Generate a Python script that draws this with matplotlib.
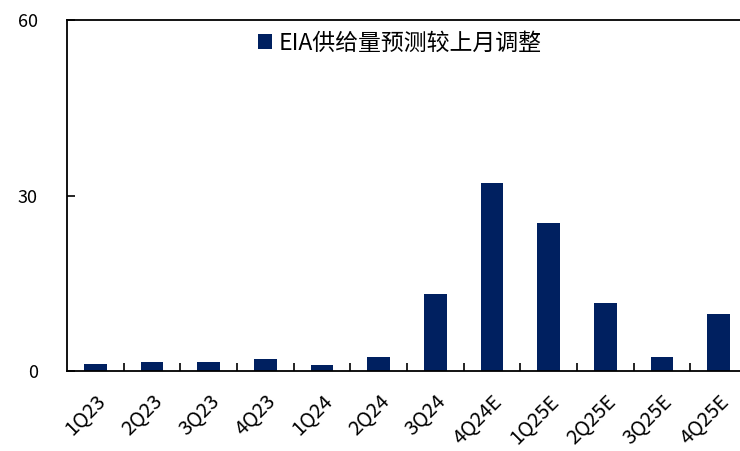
import matplotlib
matplotlib.use("Agg")
import matplotlib.pyplot as plt
import numpy as np

plt.rcParams['font.family'] = ['Noto Sans CJK SC', 'DejaVu Sans']

quarters = ["1Q23", "2Q23", "3Q23", "4Q23", "1Q24", "2Q24", "3Q24",
            "4Q24E", "1Q25E", "2Q25E", "3Q25E", "4Q25E"]
adjustment = [1.25, 1.5, 1.5, 2.0, 1.1, 2.4, 13.2, 32.2, 25.3, 11.7, 2.4, 9.7]
series_name = "EIA供给量预测较上月调整"
y_ticks = [0, 30, 60]

fig = plt.figure(figsize=(7.40, 4.51), dpi=100)
ax = fig.add_axes([0.0905, 0.177, 0.919, 0.779])

x = np.arange(len(quarters))
ax.bar(x, adjustment, width=0.4, color="#002060", label=series_name)

ax.set_xlim(-0.5, len(quarters) - 0.5)
ax.set_ylim(0, 60)
ax.set_yticks(y_ticks)
ax.tick_params(axis="y", direction="in", length=6, width=1.2,
               labelsize=13, pad=21)

ax.set_xticks(x)
ax.set_xticklabels(quarters, rotation=45, ha="right",
                   rotation_mode="anchor", fontsize=14.5)
ax.tick_params(axis="x", which="major", length=0, pad=14)
ax.set_xticks(x[:-1] + 0.5, minor=True)
ax.tick_params(axis="x", which="minor", direction="in", length=6, width=1.2)

for side in ["left", "bottom", "top"]:
    ax.spines[side].set_linewidth(1.3)
ax.spines["right"].set_visible(False)

ax.legend(loc="upper center", bbox_to_anchor=(0.49, 1.025), frameon=False,
          fontsize=16.5, handlelength=0.6, handleheight=0.6,
          handletextpad=0.3)

fig.savefig("out.png", dpi=100)
